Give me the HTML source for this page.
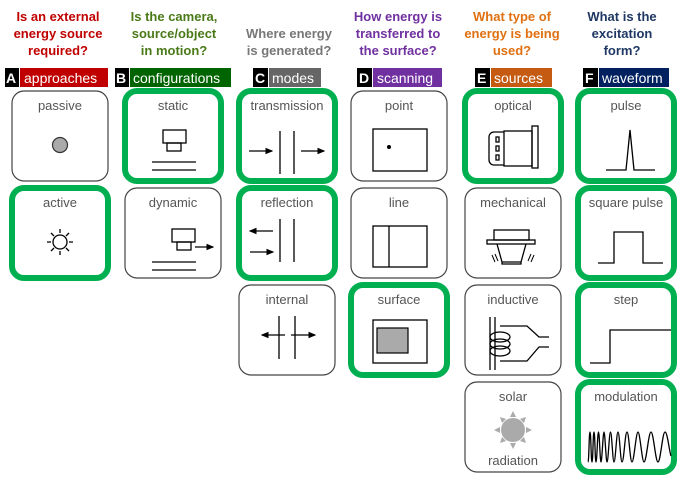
<!DOCTYPE html>
<html><head><meta charset="utf-8"><style>
html,body{margin:0;padding:0;background:#fff}
svg{display:block}
text{font-family:"Liberation Sans",Arial,sans-serif}
.q{font-weight:bold;font-size:13px;text-anchor:middle}
.t{font-size:13px;fill:#555;text-anchor:middle}
.b{font-size:14px;fill:#fff}
.n{fill:#fff;stroke:#444;stroke-width:1.2}
.g{fill:#fff;stroke:#00b050;stroke-width:6}
.k{stroke:#000;stroke-width:1.3;fill:none}
</style></head><body>
<svg width="687" height="479" viewBox="0 0 687 479" xmlns="http://www.w3.org/2000/svg">
<defs><marker id="ar" markerWidth="6" markerHeight="6" refX="5" refY="3" orient="auto"><path d="M0,0.5 L6,3 L0,5.5z" fill="#000"/></marker></defs>
<g class="q">
<text x="58" y="21" fill="#c00000">Is an external</text><text x="58" y="38" fill="#c00000">energy source</text><text x="58" y="55" fill="#c00000">required?</text>
<text x="174" y="21" fill="#4a7a18">Is the camera,</text><text x="174" y="38" fill="#4a7a18">source/object</text><text x="174" y="55" fill="#4a7a18">in motion?</text>
<text x="289" y="38" fill="#777">Where energy</text><text x="289" y="55" fill="#777">is generated?</text>
<text x="398" y="21" fill="#7030a0">How energy is</text><text x="398" y="38" fill="#7030a0">transferred to</text><text x="398" y="55" fill="#7030a0">the surface?</text>
<text x="512" y="21" fill="#e07010">What type of</text><text x="512" y="38" fill="#e07010">energy is being</text><text x="512" y="55" fill="#e07010">used?</text>
<text x="622" y="21" fill="#1f3864">What is the</text><text x="622" y="38" fill="#1f3864">excitation</text><text x="622" y="55" fill="#1f3864">form?</text>
</g>
<rect x="5" y="68" width="14" height="19" fill="#000"/><text class="b" x="6" y="83" font-weight="bold">A</text>
<rect x="20" y="68" width="88" height="19" fill="#c00000"/><text class="b" x="24" y="83">approaches</text>
<rect x="115" y="68" width="14" height="19" fill="#000"/><text class="b" x="116" y="83" font-weight="bold">B</text>
<rect x="130" y="68" width="101" height="19" fill="#006400"/><text class="b" x="133" y="83">configurations</text>
<rect x="253" y="68" width="15" height="19" fill="#000"/><text class="b" x="255" y="83" font-weight="bold">C</text>
<rect x="269" y="68" width="52" height="19" fill="#666"/><text class="b" x="272" y="83">modes</text>
<rect x="357" y="68" width="15" height="19" fill="#000"/><text class="b" x="359" y="83" font-weight="bold">D</text>
<rect x="373" y="68" width="69" height="19" fill="#7030a0"/><text class="b" x="377" y="83">scanning</text>
<rect x="475" y="68" width="15" height="19" fill="#000"/><text class="b" x="477" y="83" font-weight="bold">E</text>
<rect x="491" y="68" width="61" height="19" fill="#c55a11"/><text class="b" x="494" y="83">sources</text>
<rect x="583" y="68" width="15" height="19" fill="#000"/><text class="b" x="585" y="83" font-weight="bold">F</text>
<rect x="599" y="68" width="70" height="19" fill="#002060"/><text class="b" x="602" y="83">waveform</text>
<rect class="n" x="12" y="91" width="96" height="90" rx="12"/>
<rect class="g" x="12" y="188" width="96" height="90" rx="12"/>
<rect class="g" x="125" y="91" width="96" height="90" rx="12"/>
<rect class="n" x="125" y="188" width="96" height="90" rx="12"/>
<rect class="g" x="239" y="91" width="96" height="90" rx="12"/>
<rect class="g" x="239" y="188" width="96" height="90" rx="12"/>
<rect class="n" x="239" y="285" width="96" height="90" rx="12"/>
<rect class="n" x="351" y="91" width="96" height="90" rx="12"/>
<rect class="n" x="351" y="188" width="96" height="90" rx="12"/>
<rect class="g" x="351" y="285" width="96" height="90" rx="12"/>
<rect class="g" x="465" y="91" width="96" height="90" rx="12"/>
<rect class="n" x="465" y="188" width="96" height="90" rx="12"/>
<rect class="n" x="465" y="285" width="96" height="90" rx="12"/>
<rect class="n" x="465" y="382" width="96" height="90" rx="12"/>
<rect class="g" x="578" y="91" width="96" height="90" rx="12"/>
<rect class="g" x="578" y="188" width="96" height="90" rx="12"/>
<rect class="g" x="578" y="285" width="96" height="90" rx="12"/>
<rect class="g" x="578" y="382" width="96" height="90" rx="12"/>
<g class="t">
<text x="60" y="110">passive</text><text x="60" y="207">active</text>
<text x="173" y="110">static</text><text x="173" y="207">dynamic</text>
<text x="287" y="110">transmission</text><text x="287" y="207">reflection</text><text x="287" y="304">internal</text>
<text x="399" y="110">point</text><text x="399" y="207">line</text><text x="399" y="304">surface</text>
<text x="513" y="110">optical</text><text x="513" y="207">mechanical</text><text x="513" y="304">inductive</text><text x="513" y="401">solar</text><text x="513" y="465">radiation</text>
<text x="626" y="110">pulse</text><text x="626" y="207">square pulse</text><text x="626" y="304">step</text><text x="626" y="401">modulation</text>
</g>
<circle cx="60" cy="145" r="7.5" fill="#aaa" stroke="#333" stroke-width="1.2"/>
<g class="k"><circle cx="60" cy="242" r="7"/>
<path d="M60,233v-4M60,251v4M51,242h-4M69,242h4M54,236l-3,-3M66,236l3,-3M54,248l-3,3M66,248l3,3"/></g>
<g class="k"><rect x="163" y="130" width="23" height="13"/><rect x="167" y="143" width="14" height="8"/><path d="M152,162h44M152,170h44"/></g>
<g class="k"><rect x="172" y="229" width="23" height="13"/><rect x="177" y="242" width="14" height="8"/><path d="M152,262h44M152,270h44"/><path d="M195,247h18" marker-end="url(#ar)"/></g>
<g class="k"><path d="M280,131v43M294,131v43"/><path d="M249,151h23" marker-end="url(#ar)"/><path d="M301,151h23" marker-end="url(#ar)"/></g>
<g class="k"><path d="M280,219v43M294,219v43"/><path d="M273,231h-23" marker-end="url(#ar)"/><path d="M250,252h23" marker-end="url(#ar)"/></g>
<g class="k"><path d="M279,316v43M295,316v43"/><path d="M285,335h-23" marker-end="url(#ar)"/><path d="M291,335h24" marker-end="url(#ar)"/></g>
<g class="k"><rect x="373" y="129" width="54" height="42"/><rect x="373" y="226" width="54" height="41"/><path d="M389,226v41"/><rect x="373" y="320" width="54" height="43"/></g>
<circle cx="389" cy="147" r="2" fill="#000"/>
<rect x="377" y="328" width="31" height="25" fill="#aaa" stroke="#000" stroke-width="1.2"/>
<g class="k"><rect x="504" y="131" width="28" height="35"/><rect x="532" y="126" width="6" height="42"/><path d="M504,132h-10a5,5 0 0 0 -5,5v23a5,5 0 0 0 5,5h10"/><rect x="496" y="137" width="3" height="5"/><rect x="496" y="146" width="3" height="5"/><rect x="496" y="155" width="3" height="5"/></g>
<g class="k"><rect x="494" y="230" width="35" height="10"/><rect x="487" y="240" width="48" height="4"/><path d="M497,244l5,18h19l5,-18M502,262v2h19v-2"/><path d="M492,255l3,7M495,254l3,7M531,254l-3,7M534,255l-3,7" stroke-width="1"/></g>
<g class="k"><path d="M490,317v53M495,317v53"/><ellipse cx="500" cy="337" rx="10" ry="5"/><ellipse cx="500" cy="344" rx="10" ry="5"/><ellipse cx="500" cy="351" rx="10" ry="5"/><path d="M500,326h27l12,11h10M500,361h27l12,-14h10"/></g>
<g fill="#aaa"><circle cx="513" cy="430" r="12"/><path d="M513,411l3,6h-6zM513,449l3,-6h-6zM494,430l6,3v-6zM532,430l-6,3v-6zM500,417l6,2l-4,4zM526,417l-6,2l4,4zM500,443l6,-2l-4,-4zM526,443l-6,-2l4,-4z"/></g>
<g class="k"><path d="M606,170h20l4,-40l4,40h21"/><path d="M598,263h16v-31h29v31h20"/><path d="M590,363h20v-33h61"/>
<path d="M588,462 C589,462 589,432 590,432 C591,432 591,462 592,462 C593,462 593,432 594,432 C595,432 595,462 596,462 C597,462 597.5,432 598.5,432 C599.5,432 600,462 601,462 C602,462 603,432 604,432 C605,432 606,462 607,462 C608.3,462 609.2,432 610.5,432 C611.8,432 612.7,462 614,462 C615.5,462 616.5,432 618,432 C619.5,432 620.5,462 622,462 C624,462 625,432 627,432 C629,432 630,462 632,462 C634,462 636,432 638,432 C640,432 642,462 644,462 C646.5,462 648.5,432 651,432 C653.5,432 655.5,462 658,462 C660.5,462 662.5,432 665,432 C667.5,432 669,450 671,456"/></g>
</svg>
</body></html>
